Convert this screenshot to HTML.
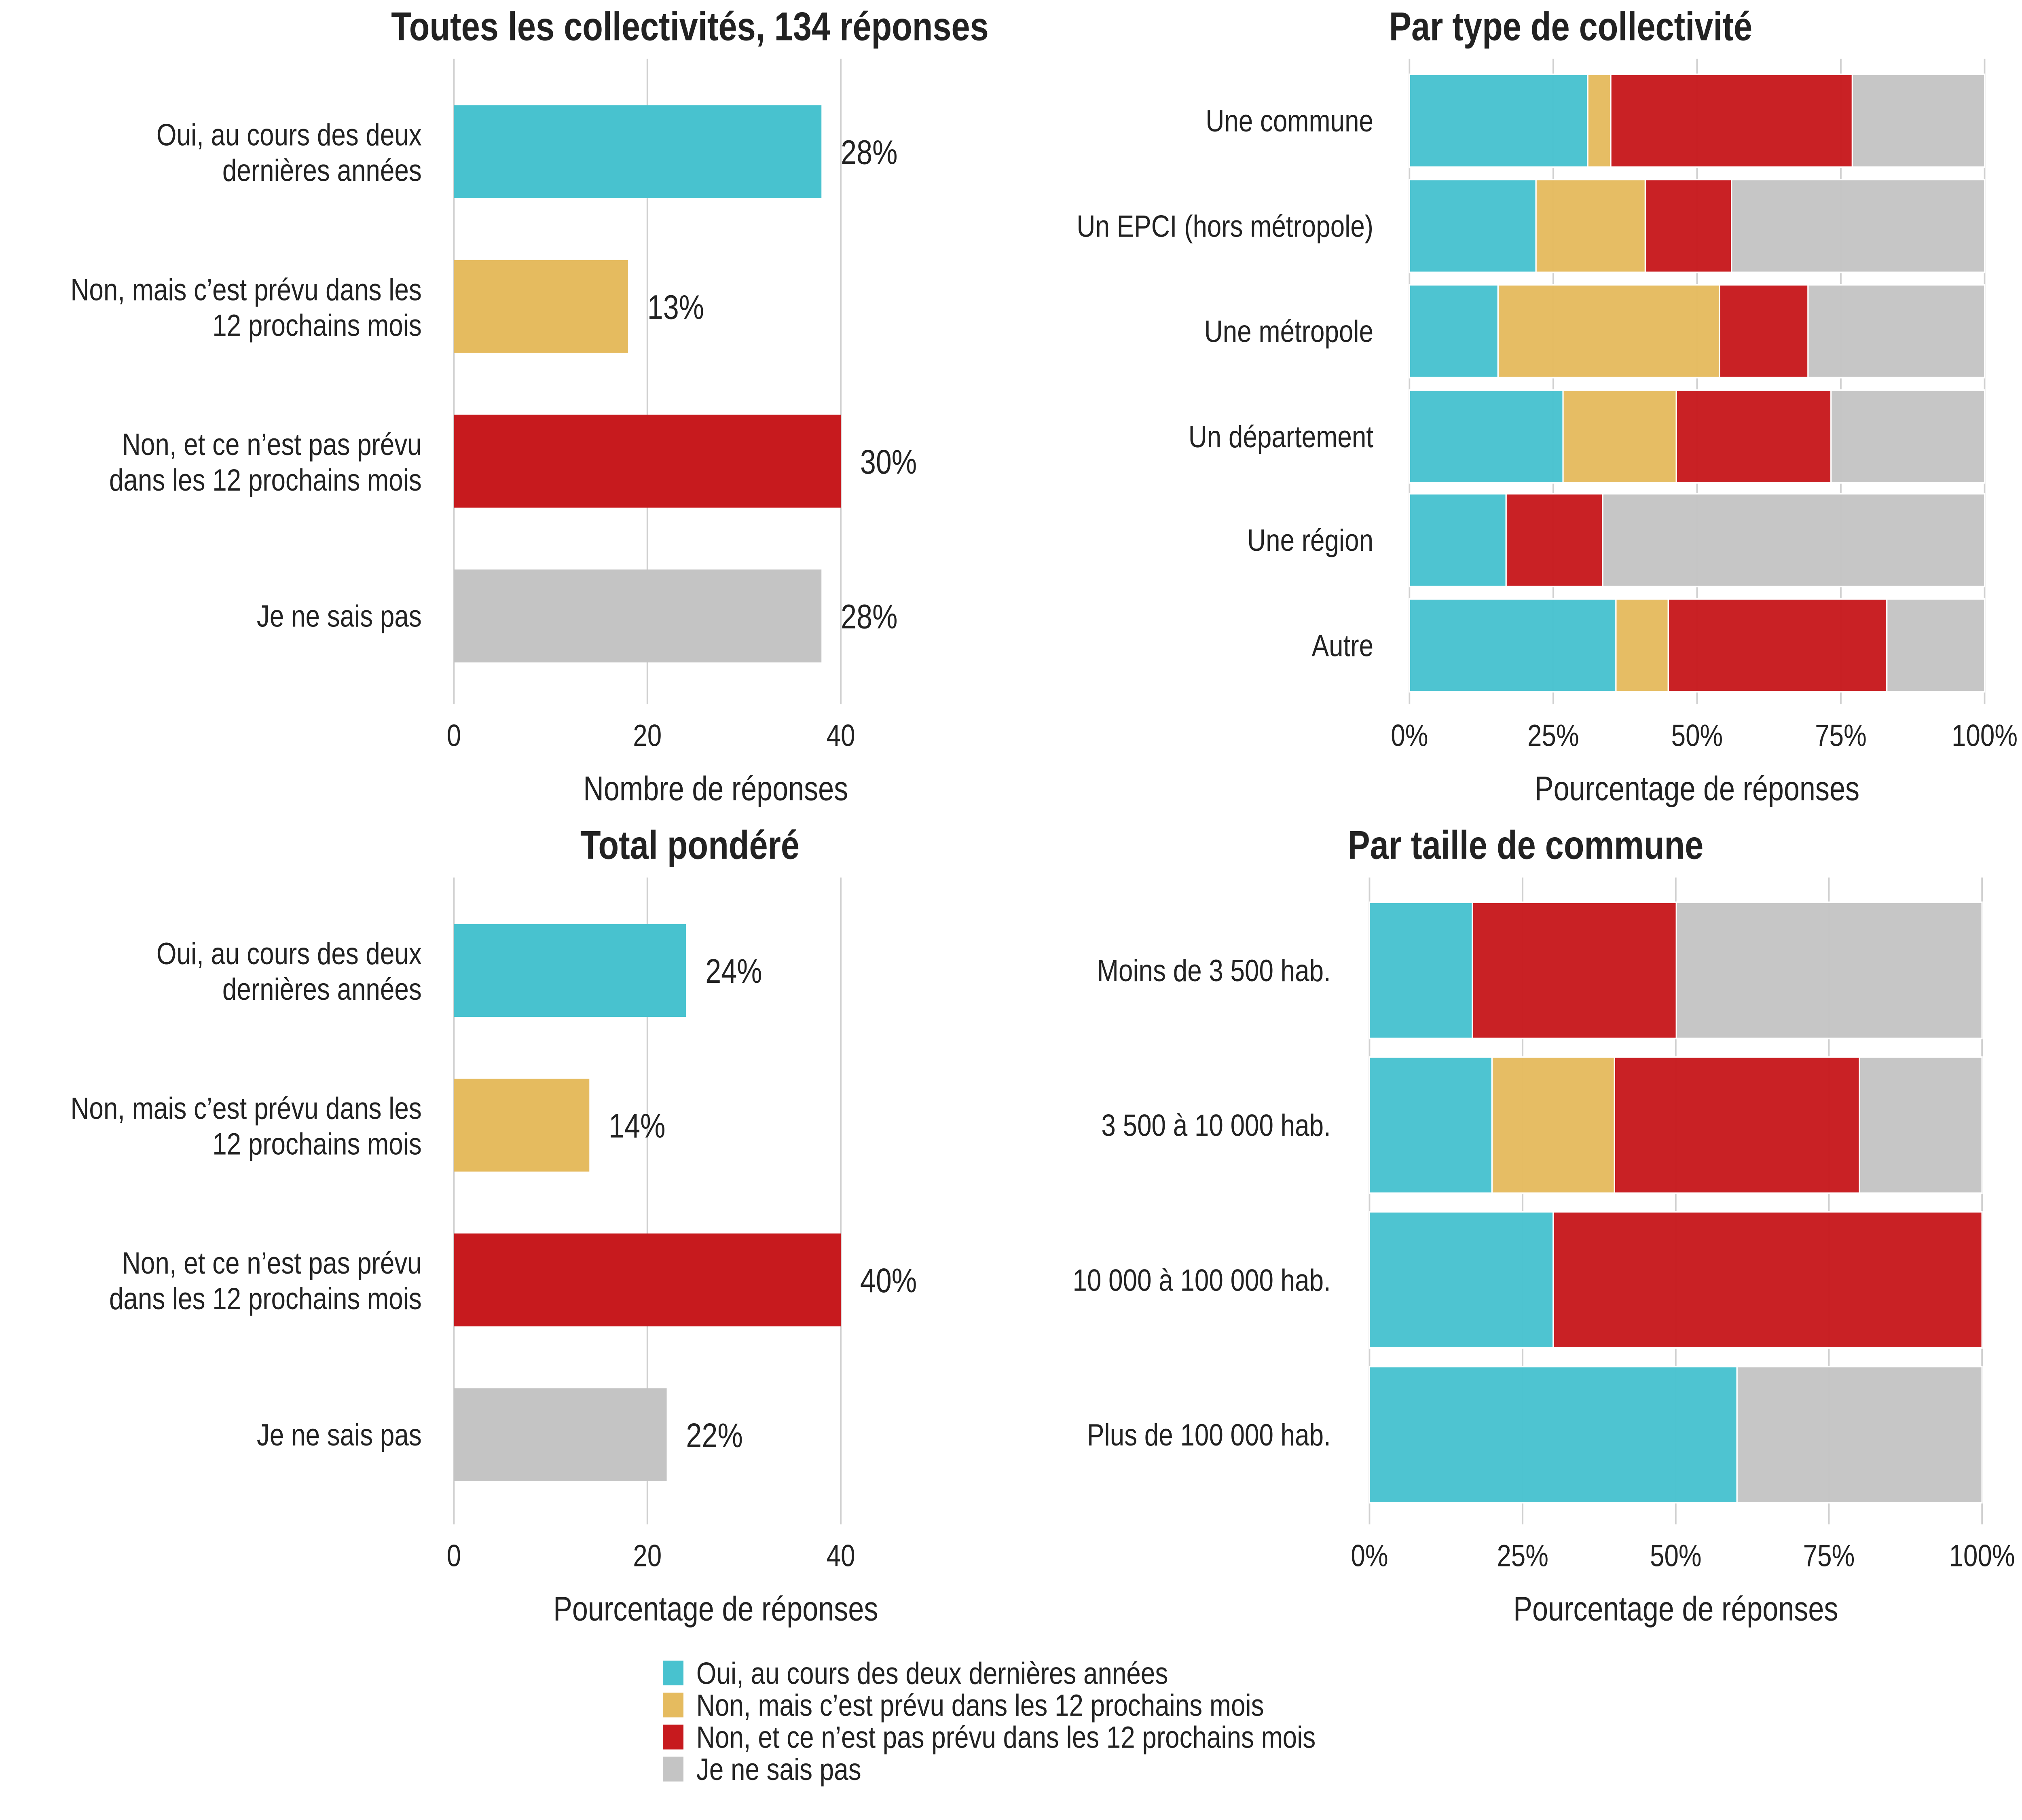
<!DOCTYPE html>
<html><head><meta charset="utf-8"><style>
html,body{margin:0;padding:0;background:#fff;width:100%;height:100%;overflow:hidden}
svg{display:block;width:100vw;height:100vh}
text{font-family:"Liberation Sans",sans-serif;fill:#222}
</style></head><body>
<svg id="c" viewBox="0 0 1568 1176" preserveAspectRatio="none" xmlns="http://www.w3.org/2000/svg"></svg>
<script>
const colors=["#48c2cf","#e5bb5f","#c71a1e","#c4c4c4"];
const seriesNames=["Oui, au cours des deux dernières années","Non, mais c’est prévu dans les 12 prochains mois","Non, et ce n’est pas prévu dans les 12 prochains mois","Je ne sais pas"];
const leftCats=[["Oui, au cours des deux","dernières années"],["Non, mais c’est prévu dans les","12 prochains mois"],["Non, et ce n’est pas prévu","dans les 12 prochains mois"],["Je ne sais pas"]];
const countValues=[38,18,40,38];
const countLabels=["28%","13%","30%","28%"];
const weightedValues=[24,14,40,22];
const weightedLabels=["24%","14%","40%","22%"];
const leftTicks=[0,20,40];
const typeCats=["Une commune","Un EPCI (hors métropole)","Une métropole","Un département","Une région","Autre"];
const typeOui=[31,22,15.4,26.7,16.8,35.9];
const typePrevu=[4,19,38.5,19.7,0,9.1];
const typeNon=[42,15,15.4,26.9,16.8,38];
const typeNsp=[23,44,30.7,26.7,66.4,17];
const sizeCats=["Moins de 3 500 hab.","3 500 à 10 000 hab.","10 000 à 100 000 hab.","Plus de 100 000 hab."];
const sizeOui=[16.8,20,30,60];
const sizePrevu=[0,20,0,0];
const sizeNon=[33.3,40,70,0];
const sizeNsp=[49.9,20,0,40];
const pctTicks=[0,25,50,75,100];

const svg=document.getElementById('c');
const NS="http://www.w3.org/2000/svg";
function el(tag,attrs,parent){const e=document.createElementNS(NS,tag);for(const k in attrs)e.setAttribute(k,attrs[k]);(parent||svg).appendChild(e);return e;}
function txt(s,x,y,size,anchor,weight,parent){const t=el('text',{x:x,y:y,'font-size':size,'text-anchor':anchor||'start','font-weight':weight||'normal'},parent);t.textContent=s;return t;}

function leftPanel(name,title,titleY,vals,labels,y0,yEnd,axisTitle,centers){
  const g=el('g',{});
  
  
  const xs=v=>352+v*7.5;
  const t=txt(title,535,titleY,26,'middle','bold',g);
  
  leftTicks.forEach(v=>{
    const l=el('line',{x1:xs(v),x2:xs(v),y1:y0,y2:yEnd,stroke:'#d0d0d0','stroke-width':1.2},g);
    
    const tt=txt(String(v),xs(v),yEnd+27,20,'middle',null,g);
    
  });
  vals.forEach((v,i)=>{
    const cy=centers[i];
    const r=el('rect',{x:xs(0),y:cy-30,width:xs(v)-xs(0),height:60,fill:colors[i]},g);
    
    const lb=txt(labels[i],xs(v)+15,cy+8,22,'start',null,g);
    
    const lines=leftCats[i];
    lines.forEach((s,j)=>{
      const yy=lines.length==1?cy+7:cy-4+(j*23);
      const c=txt(s,327,yy,20,'end',null,g);
      
    });
  });
  const at=txt(axisTitle,555,yEnd+62,22,'middle',null,g);
  
}
leftPanel('panel-all','Toutes les collectivités, 134 réponses',26,countValues,countLabels,38,455,'Nombre de réponses',[98,198,298,398]);
leftPanel('panel-weighted','Total pondéré',555,weightedValues,weightedLabels,567,985,'Pourcentage de réponses',[627,727,827,927]);

function stackPanel(name,title,tx,ty,cats,series,x0,x1,centers,h,y0,yEnd,labelX){
  const g=el('g',{});
  
  
  const xs=v=>x0+v/100*(x1-x0);
  const t=txt(title,tx,ty,26,'middle','bold',g);
  
  pctTicks.forEach(v=>{
    const l=el('line',{x1:xs(v),x2:xs(v),y1:y0,y2:yEnd,stroke:'#d0d0d0','stroke-width':1.2},g);
    
    const tt=txt(v+'%',xs(v),yEnd+27,20,'middle',null,g);
    
  });
  cats.forEach((c,i)=>{
    let acc=0;const cy=centers[i];
    series.forEach((s,k)=>{
      const v=s[i];
      if(v>0){
        const r=el('rect',{x:xs(acc),y:cy-h/2,width:xs(acc+v)-xs(acc),height:h,fill:colors[k],'fill-opacity':0.97,stroke:'#fff','stroke-width':1},g);
        
      }
      acc+=v;
    });
    const lb=txt(c,labelX,cy+7,20,'end',null,g);
    
  });
  const at=txt('Pourcentage de réponses',(x0+x1)/2,yEnd+62,22,'middle',null,g);
  
}
stackPanel('panel-type','Par type de collectivité',1218,26,typeCats,[typeOui,typePrevu,typeNon,typeNsp],1093,1539,[78,146,214,282,349,417],60,38,455,1065);
stackPanel('panel-size','Par taille de commune',1183,555,sizeCats,[sizeOui,sizePrevu,sizeNon,sizeNsp],1062,1537,[627,727,827,927],88,567,985,1032);

const lg=el('g',{});


seriesNames.forEach((s,i)=>{
  const y=1081+i*20.7;
  const r=el('rect',{x:514,y:y-8,width:16,height:16,fill:colors[i]},lg);
  
  const t=txt(s,540,y+7,20,'start',null,lg);
  
});
</script>
</body></html>
